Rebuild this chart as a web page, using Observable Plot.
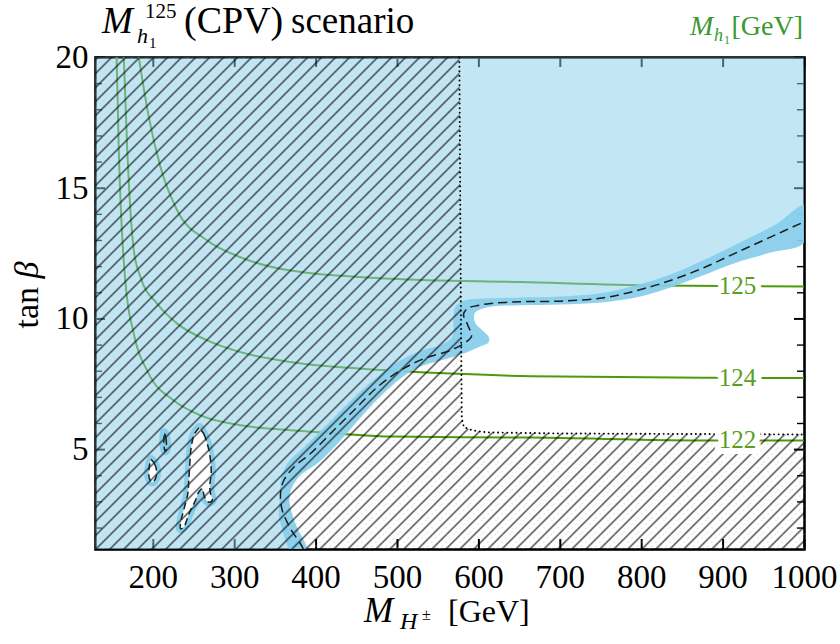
<!DOCTYPE html>
<html><head><meta charset="utf-8">
<script src="https://cdn.jsdelivr.net/npm/d3@7"></script>
<script src="https://cdn.jsdelivr.net/npm/@observablehq/plot@0.6"></script>
<style>body{margin:0;background:#fff} #chart svg{display:block}</style>
</head><body>
<svg width="0" height="0" style="position:absolute">
<defs>
<pattern id="hatch" patternUnits="userSpaceOnUse" width="14" height="14">
<path d="M-2,2 L2,-2 M0,14 L14,0 M12,16 L16,12" stroke="#000" stroke-width="1.05" fill="none"/>
</pattern>
<pattern id="hatchFaint" patternUnits="userSpaceOnUse" width="14" height="14" x="7">
<path d="M-2,2 L2,-2 M0,14 L14,0 M12,16 L16,12" stroke="#b4b4b4" stroke-width="0.8" stroke-dasharray="1.5,4" fill="none"/>
</pattern>
</defs></svg>
<div id="chart"></div>
<script>
// ---- axes ----
const xDomain = [129, 1000];
const yDomain = [1.18, 20];
const xTicks = [200, 300, 400, 500, 600, 700, 800, 900, 1000];
const yMajorTicks = [5, 10, 15, 20];
const yMinorTicks = [2, 3, 4, 6, 7, 8, 9, 11, 12, 13, 14, 16, 17, 18, 19];

// ---- M_h1 contours (GeV) ----
const mh122X = [155, 157.6, 160.6, 165.9, 176.1, 194.5, 225.2, 258, 307.1, 368.6, 430, 491.4, 663, 888, 1000];
const mh122Y = [20, 16.44, 13.89, 11.35, 9.43, 7.90, 6.88, 6.31, 5.93, 5.74, 5.61, 5.50, 5.46, 5.35, 5.35];
const mh124X = [163.8, 168, 171.1, 176.1, 184.3, 204.8, 229.4, 266.2, 307, 368.6, 491.4, 573.4, 663.4, 888.6, 1000];
const mh124Y = [20, 16.44, 14.53, 12.62, 11.6, 10.58, 9.82, 9.18, 8.73, 8.35, 8.03, 7.9, 7.81, 7.75, 7.74];
const mh125X = [182.2, 194.5, 208.9, 229.4, 266.2, 307.1, 368.6, 491.4, 651.1, 814.9, 1000];
const mh125Y = [20, 17.72, 15.8, 14.15, 13.0, 12.36, 11.85, 11.54, 11.41, 11.28, 11.24];
const contourLabels = ["122", "124", "125"];
const contourLabelX = [917.7, 917.7, 917.7];
const contourLabelY = [5.35, 7.75, 11.26];

// ---- exclusion boundary (central, dashed) ----
const dashX = [384.5, 380.8, 368.6, 358.4, 356.3, 360.3, 372.6, 393.1, 421.7, 450.5, 475.1, 503.7, 532.3, 565.1, 583.5, 590.9, 586, 581.1, 586, 598.3, 614.3, 632.7, 654.8, 700.3, 753.4, 794.5, 835.2, 876.3, 917.3, 958.2, 1000];
const dashY = [1.19, 1.40, 1.98, 2.68, 3.32, 3.82, 4.33, 4.85, 5.74, 6.63, 7.39, 8.03, 8.48, 8.80, 9.10, 9.33, 9.79, 10.17, 10.40, 10.51, 10.59, 10.63, 10.66, 10.68, 10.81, 11.09, 11.47, 11.96, 12.55, 13.13, 13.72];

// ---- uncertainty band edges ----
const bandUpperX = [366.5, 360.5, 354.4, 355.8, 357.0, 365.6, 385.3, 414.8, 444.3, 470.1, 499.6, 530.3, 552.8, 567.6, 568.8, 571.3, 583.5, 602.0, 651.1, 700.3, 749.4, 792.4, 835.4, 878.4, 921.4, 964.4, 1000];
const bandUpperY = [1.19, 1.72, 2.49, 3.25, 3.90, 4.51, 5.09, 6.0, 6.92, 7.65, 8.34, 8.80, 8.99, 9.33, 9.94, 10.48, 10.71, 10.77, 10.82, 10.86, 10.98, 11.28, 11.70, 12.28, 12.93, 13.61, 14.34];
const bandLowerX = [1000, 958.3, 916.5, 872.3, 835.4, 798.5, 749.4, 700.3, 651.1, 616.7, 603.2, 594.6, 595.8, 604.4, 612.4, 611.8, 602.0, 584.8, 552.8, 528.3, 503.7, 479.1, 454.6, 430.0, 403.0, 380.8, 369.8, 367.3, 371.0, 378.4, 385.8, 389.4];
const bandLowerY = [12.93, 12.54, 12.16, 11.63, 11.20, 10.86, 10.63, 10.55, 10.52, 10.48, 10.38, 10.21, 9.83, 9.56, 9.29, 9.10, 8.95, 8.72, 8.41, 8.18, 7.72, 7.04, 6.23, 5.35, 4.51, 4.02, 3.52, 3.06, 2.49, 1.91, 1.49, 1.19];

// ---- small allowed islands ----
const holeAX = [197.4, 201.5, 203.9, 202.7, 198.7, 195.3, 194.5, 195.7];
const holeAY = [4.62, 4.46, 4.21, 3.89, 3.76, 3.89, 4.21, 4.46];
const holeBX = [256.5, 262.0, 266.9, 270.3, 271.1, 269.4, 270.3, 272.4, 268.2, 262.9, 260.1, 255.9, 251.9, 245.7, 241.7, 237.5, 233.4, 234.3, 238.3, 242.4, 243.6, 244.9, 246.6, 250.5];
const holeBY = [5.85, 5.6, 5.16, 4.59, 4.08, 3.63, 3.32, 3.06, 2.99, 3.19, 3.51, 3.38, 3.06, 2.68, 2.36, 2.04, 1.98, 2.30, 2.80, 3.32, 3.82, 4.46, 5.10, 5.6];
const holeCX = [213.5, 215.5, 215.8, 214.5, 213.0];
const holeCY = [5.65, 5.45, 5.0, 4.95, 5.2];

// ---- hatched (other constraints) boundary, dotted ----
const dotX = [576, 578, 579, 581.5, 591.8, 610, 700, 1000];
const dotY = [20, 10, 6.2, 5.86, 5.74, 5.66, 5.62, 5.58];

// ---- build tables ----
const rows = (xs, ys, extra = {}) => xs.map((x, i) => ({x, y: ys[i], ...extra}));
const closed = (r) => [...r, r[0]];
const green = "#4e9a0a";
const labelGreen = "#5a9e1c";
const topGreen = "#3a9a30";
const sky = "#87ceeb";

const greenRows = [
  ...rows(mh122X, mh122Y, {level: "122"}),
  ...rows(mh124X, mh124Y, {level: "124"}),
  ...rows(mh125X, mh125Y, {level: "125"})
];
const labelRows = contourLabels.map((t, i) => ({x: contourLabelX[i], y: contourLabelY[i], t}));
const dashRows = rows(dashX, dashY);
const excludedPoly = [{x: xDomain[0], y: yDomain[0]}, ...dashRows, {x: xDomain[1], y: yDomain[1]}, {x: xDomain[0], y: yDomain[1]}];
const bandPoly = [...rows(bandUpperX, bandUpperY), ...rows(bandLowerX, bandLowerY)];
const holeRows = [
  ...closed(rows(holeAX, holeAY, {id: "a"})),
  ...closed(rows(holeBX, holeBY, {id: "b"})),
  ...closed(rows(holeCX, holeCY, {id: "c"}))
];
const dotRows = rows(dotX, dotY);
const hatchPoly = [{x: xDomain[0], y: yDomain[1]}, ...dotRows, {x: xDomain[1], y: yDomain[0]}, {x: xDomain[0], y: yDomain[0]}];

const W = 840, H = 644, mL = 95, mR = 36, mT = 57, mB = 95;
const innerW = W - mL - mR, innerH = H - mT - mB;
const font = "Liberation Serif";

const svg = Plot.plot({
  width: W, height: H,
  marginLeft: mL, marginRight: mR, marginTop: mT, marginBottom: mB,
  x: {domain: xDomain, axis: null},
  y: {domain: yDomain, axis: null},
  style: {fontFamily: font, background: "white", color: "black"},
  marks: [
    Plot.tickX(xTicks, {x: d => d, insetTop: innerH - 10, strokeWidth: 2}),
    Plot.tickX(xTicks, {x: d => d, insetBottom: innerH - 10, strokeWidth: 2}),
    Plot.tickY(yMajorTicks, {y: d => d, insetRight: innerW - 10, strokeWidth: 2}),
    Plot.tickY(yMajorTicks, {y: d => d, insetLeft: innerW - 10, strokeWidth: 2}),
    Plot.tickY(yMinorTicks, {y: d => d, insetRight: innerW - 7, strokeWidth: 1.4}),
    Plot.tickY(yMinorTicks, {y: d => d, insetLeft: innerW - 7, strokeWidth: 1.4}),
    Plot.frame({strokeWidth: 2.6}),
    Plot.line(hatchPoly, {x: "x", y: "y", fill: "url(#hatchFaint)", stroke: "none"}),
    Plot.line(greenRows, {x: "x", y: "y", z: "level", stroke: green, strokeWidth: 2, curve: "monotone-x", clip: true}),
    Plot.line(excludedPoly, {x: "x", y: "y", fill: sky, fillOpacity: 0.5, stroke: "none", clip: true}),
    Plot.line(bandPoly, {x: "x", y: "y", fill: sky, fillOpacity: 0.93, stroke: "none", curve: "catmull-rom", clip: true}),
    Plot.line(holeRows, {x: "x", y: "y", z: "id", fill: sky, stroke: sky, strokeWidth: 9, curve: "catmull-rom-closed", clip: true}),
    Plot.line(holeRows.filter(d => d.id !== "c"), {x: "x", y: "y", z: "id", fill: "white", stroke: "none", curve: "catmull-rom-closed"}),
    Plot.line(hatchPoly, {x: "x", y: "y", fill: "url(#hatch)", stroke: "none"}),
    Plot.line(dotRows, {x: "x", y: "y", stroke: "black", strokeWidth: 1.9, strokeDasharray: "0.1,4.5", strokeLinecap: "round"}),
    Plot.line(dashRows, {x: "x", y: "y", stroke: "#1c1c1c", strokeWidth: 1.5, strokeDasharray: "9,5", strokeLinecap: "butt", curve: "catmull-rom", clip: true}),
    Plot.line(holeRows, {x: "x", y: "y", z: "id", stroke: "#1c1c1c", strokeWidth: 1.5, strokeDasharray: "7,4", strokeLinecap: "butt", curve: "catmull-rom-closed"}),
    Plot.text(labelRows, {x: "x", y: "y", text: "t", fill: labelGreen, stroke: "white", strokeWidth: 12, fontSize: 25, fontFamily: font}),
    Plot.axisX(xTicks, {tickSize: 0, tickPadding: 15, fontSize: 33, fontFamily: font, tickFormat: d => String(d), label: null}),
    Plot.axisY(yMajorTicks, {tickSize: 0, tickPadding: 7, fontSize: 33, fontFamily: font, tickFormat: d => String(d), label: null})
  ]
});
document.getElementById("chart").append(svg);

const s = d3.select(svg);
function txt(x, y, str, size, opts = {}) {
  const t = s.append("text").attr("x", x).attr("y", y).attr("font-family", font)
    .attr("font-size", size).attr("fill", opts.fill || "black")
    .attr("text-anchor", opts.anchor || "start").text(str);
  if (opts.italic) t.attr("font-style", "italic");
  return t;
}
// title
txt(102, 33, "M", 37, {italic: true});
txt(145, 18, "125", 21);
txt(137, 43, "h", 22, {italic: true});
txt(149, 48, "1", 15);
txt(184, 33, "(CPV)", 38);
txt(291, 33, "scenario", 37);
// top-right legend label
txt(690, 35, "M", 28, {italic: true, fill: topGreen});
txt(714, 41, "h", 18, {italic: true, fill: topGreen});
txt(724, 44, "1", 12, {fill: topGreen});
txt(803, 35, "[GeV]", 28, {anchor: "end", fill: topGreen});
// x axis title
txt(364, 622, "M", 35, {italic: true});
txt(400, 629, "H", 24, {italic: true});
txt(422, 620, "±", 16);
txt(448, 622, "[GeV]", 32);
// y axis title
const g = s.append("g").attr("transform", "translate(38,295) rotate(-90)");
const yt = g.append("text").attr("text-anchor", "middle").attr("font-family", font).attr("font-size", 34);
yt.append("tspan").text("tan ");
yt.append("tspan").attr("font-style", "italic").text("β");
</script>
</body></html>
